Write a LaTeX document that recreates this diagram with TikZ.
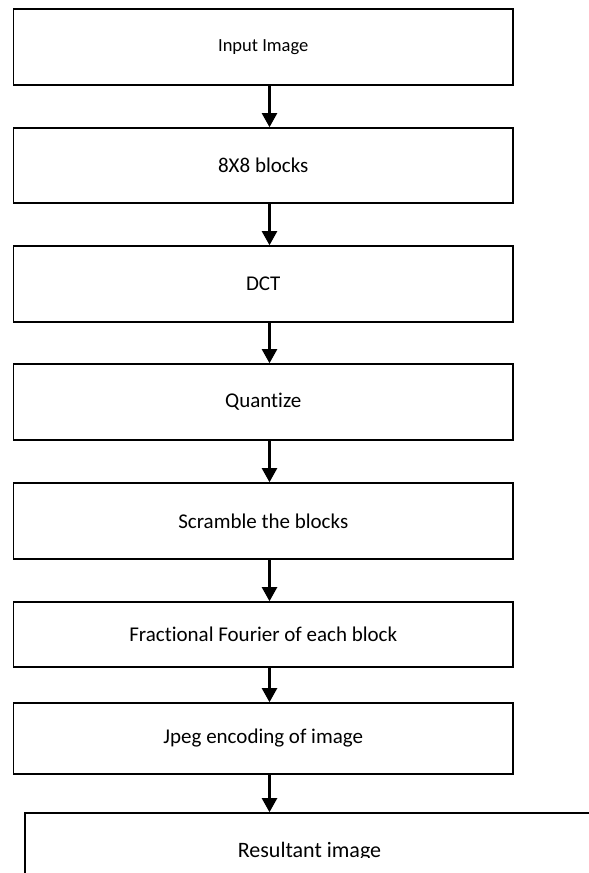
\documentclass[tikz,border=0pt]{standalone}
\usepackage{fontspec}
\setmainfont{Carlito}[Ligatures=NoCommon]
\usetikzlibrary{arrows.meta}
\begin{document}
\begin{tikzpicture}[x=1pt,y=-1pt,
  stepbox/.style={draw=black,line width=1.6pt,rectangle,inner sep=0pt,
    minimum width=499.5pt,font=\fontsize{21}{25}\selectfont},
  flow/.style={line width=2.2pt,-{Triangle[width=15pt,length=14pt]}}]
\useasboundingbox (0,0) rectangle (589,873);
\clip (0,0) rectangle (589,873);
\node[stepbox,minimum height=76pt,font=\fontsize{18.5}{22}\selectfont] (b1) at (263.25,47) {Input Image};
\node[stepbox,minimum height=75pt] (b2) at (263.25,165.5) {8X8 blocks};
\node[stepbox,minimum height=76pt] (b3) at (263.25,284) {DCT};
\node[stepbox,minimum height=76pt] (b4) at (263.25,402) {Quantize};
\node[stepbox,minimum height=76pt] (b5) at (263.25,521) {Scramble the blocks};
\node[stepbox,minimum height=65pt] (b6) at (263.25,634.5) {Fractional Fourier of each block};
\node[stepbox,minimum height=71pt] (b7) at (263.25,738.5) {Jpeg encoding of image};
\node[stepbox,minimum width=575pt,minimum height=100pt] (b8) at (312.5,863) {};
\begin{scope}
\clip (0,0) rectangle (589,857);
\node[font=\fontsize{22}{26}\selectfont,anchor=base,inner sep=0pt] (t8) at (309.5,857) {Resultant image};
\end{scope}
\foreach \a/\b in {b1/b2,b2/b3,b3/b4,b4/b5,b5/b6,b6/b7,b7/b8}
  \draw[flow] ([xshift=6.25pt]\a.south -| b1.center) -- ([xshift=6.25pt]\b.north -| b1.center);
\end{tikzpicture}
\end{document}
